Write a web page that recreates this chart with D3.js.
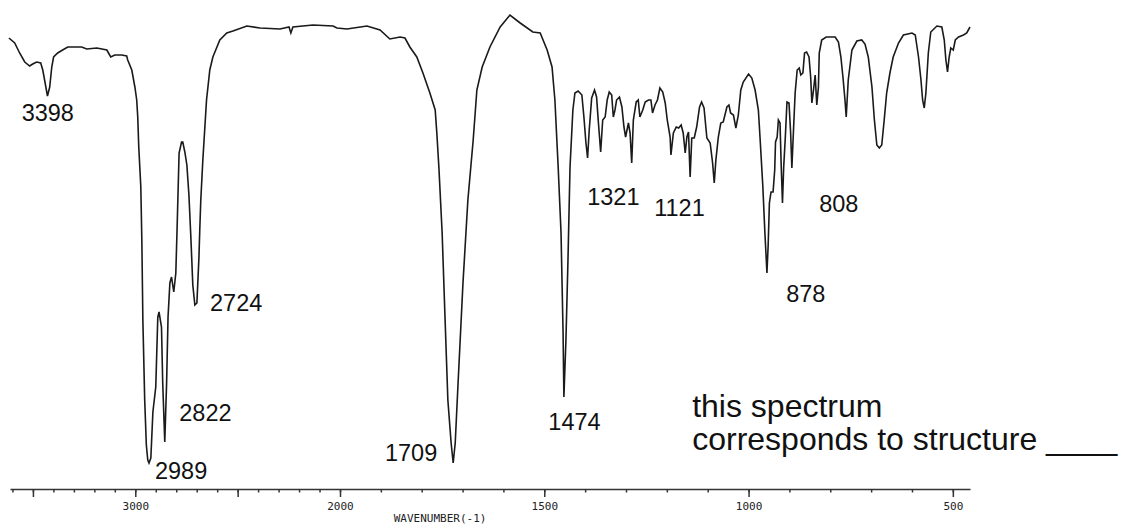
<!DOCTYPE html>
<html>
<head>
<meta charset="utf-8">
<script src="https://cdn.jsdelivr.net/npm/d3@7"></script>
<style>
    body { margin: 0; background: #fff; }
    svg { display: block; }
    .Spectrum__label { font-family: "Liberation Sans", Arial, sans-serif; font-size: 23.5px; fill: #111; }
    .Spectrum__note { font-family: "Liberation Sans", Arial, sans-serif; font-size: 32px; fill: #111; }
    .Spectrum__axis text { font-family: "DejaVu Sans Mono", monospace; font-size: 11px; fill: #222; }
    .Spectrum__axis path, .Spectrum__axis line { stroke: #333; stroke-width: 1.5; }
</style>
</head>
<body>
<div class="Spectrum"></div>
<script>
// wavenumber (cm-1), transmittance (%)
const ohRegion = [
    [3617, 86.4], [3589, 85.4], [3565, 83.4], [3540, 81.6], [3516, 80.8], [3501, 81.2], [3482, 81.6],
    [3462, 81.4], [3452, 80], [3443, 78], [3429, 74.8], [3418, 76.6], [3408, 80.6], [3399, 82.6],
    [3379, 83.4], [3355, 84], [3330, 84.6], [3262, 84.6], [3237, 84.2], [3188, 84.4], [3139, 84],
    [3120, 82.6], [3100, 83], [3066, 83], [3042, 82.8], [3037, 82], [3017, 80], [3002, 76.6]
];
const chRegion = [
    [2993, 74], [2988, 70.6], [2983, 64.6], [2973, 56.6], [2968, 46], [2963, 30], [2954, 14],
    [2946, 5], [2939, 2], [2933, 1.4], [2924, 2.4], [2914, 11.6], [2900, 16.6], [2890, 30.6],
    [2884, 31.6], [2872, 28.6], [2866, 17.4], [2856, 5.6], [2847, 17.4], [2840, 30.6], [2831, 37.4],
    [2823, 38.6], [2812, 35.6], [2802, 39.4], [2796, 48], [2786, 63.4], [2774, 65.6], [2768, 65.6],
    [2758, 63.6], [2748, 61], [2738, 55], [2729, 47], [2719, 37], [2709, 33], [2699, 33.4],
    [2689, 42.6], [2685, 48], [2680, 54], [2670, 62], [2652, 74], [2636, 80], [2621, 82.6],
    [2587, 86], [2553, 87.4], [2523, 87.8]
];
const carbonylRegion = [
    [2455, 88.8], [2391, 88.4], [2293, 88.2], [2249, 88.6], [2240, 87.4], [2230, 88.6], [2132, 89],
    [2034, 88.8], [2015, 88.4], [1983, 88.2], [1934, 88.8], [1902, 88], [1878, 86.2], [1853, 86.6],
    [1841, 86.4], [1829, 84.6], [1812, 82.6], [1797, 79.4], [1780, 75.4], [1767, 72], [1763, 67.4],
    [1758, 60.6], [1750, 47.4], [1743, 30.6], [1736, 14], [1728, 5.4], [1723, 1.4], [1718, 5.4],
    [1711, 17.4], [1699, 37.4], [1687, 54], [1674, 66], [1665, 76], [1652, 80.6], [1633, 84.6],
    [1608, 88.6], [1584, 91], [1559, 89.4], [1528, 87.6], [1510, 87.4], [1493, 84], [1481, 80.6],
    [1474, 74], [1466, 60.6], [1459, 47.4], [1454, 27.4], [1452, 14.6], [1447, 26], [1442, 42],
    [1437, 60.6], [1430, 72], [1425, 75.4]
];
const fingerprintRegion = [
    [1417, 75.8], [1408, 75], [1403, 70.6], [1398, 65.4], [1394, 62.4], [1390, 68], [1384, 74.4],
    [1377, 76], [1372, 74.6], [1368, 70], [1362, 63.6], [1357, 70], [1351, 70.6], [1346, 74],
    [1341, 75.6], [1335, 75], [1331, 70.6], [1327, 72], [1323, 74], [1316, 74.6], [1310, 72.6],
    [1305, 68.6], [1301, 66.6], [1294, 69.4], [1290, 67.4], [1286, 61.4], [1282, 70], [1275, 73.6],
    [1270, 74], [1266, 70.6], [1259, 72], [1253, 73.6], [1245, 74], [1239, 74], [1235, 71.4],
    [1229, 73], [1223, 74], [1217, 76.4], [1210, 75.6], [1204, 73.4], [1199, 70], [1192, 66.6],
    [1190, 63], [1184, 67.4], [1177, 68.6], [1171, 68.4], [1165, 69], [1160, 67.4], [1155, 63.4],
    [1151, 66.6], [1147, 67.6], [1143, 58.6], [1139, 66.4], [1133, 66.4], [1127, 68.6], [1120, 72.6],
    [1115, 73.6], [1109, 72.4], [1102, 66.4], [1094, 65.4], [1088, 61.4], [1084, 57.4], [1080, 62],
    [1074, 66.6], [1068, 69.4], [1062, 69.6], [1053, 72.6], [1048, 73], [1044, 71.4], [1037, 71],
    [1031, 68.4], [1025, 71], [1019, 76], [1013, 77.6], [1000, 79.2], [992, 78.4], [984, 76],
    [976, 72], [972, 66.6], [965, 56.6], [960, 47.4], [955, 39.4], [952, 45], [949, 53.4],
    [945, 55.6], [940, 55.6], [936, 60], [934, 65.6], [930, 66.6], [927, 70], [923, 69.4],
    [920, 60.6], [917, 53.4], [914, 60.6], [910, 66.6], [906, 73.6], [901, 73.4], [897, 67.4],
    [894, 60.4], [890, 68], [886, 75.4]
];
const lowRegion = [
    [881, 80], [876, 80.4], [872, 79], [867, 79.4], [863, 83.4], [858, 83.6], [852, 82.6],
    [848, 78.6], [845, 73.4], [841, 76], [837, 79], [833, 73], [829, 76.6], [827, 83.4], [821, 86],
    [810, 86.6], [788, 86.6], [780, 85.6], [774, 82.6], [769, 78.6], [764, 74], [761, 70.6],
    [756, 78], [747, 84], [735, 85.8], [723, 86], [715, 85.2], [707, 82.6], [698, 76.6], [692, 70],
    [686, 65], [680, 64.4], [674, 65], [668, 70], [662, 75.4], [654, 79.4], [646, 82.6], [633, 85.4],
    [621, 87], [600, 87.4], [592, 87], [584, 82.6], [578, 78], [574, 74], [570, 72.4], [566, 75.4],
    [560, 83.4], [554, 87.6], [539, 88.8], [527, 88.6], [521, 86], [517, 82], [513, 79.6],
    [509, 82.6], [505, 84.4], [499, 84], [494, 86], [486, 86.6], [474, 87], [466, 87.4], [458, 88.6]
];

// hand written peak labels: text, wavenumber and transmittance where the label sits
const peakLabels = ["3398", "2989", "2822", "2724", "1709", "1474", "1321", "1121", "878", "808"];
const labelWavenumbers = [3555, 2904, 2785, 2635, 1890, 1490, 1395, 1231, 908, 827];
const labelTransmittance = [69.8, -1.8, 9.8, 31.9, 1.8, 8, 53, 50.8, 33.7, 51.7];

const noteLines = ["this spectrum", "corresponds to structure ____"];

const minorTicks = d3.range(3600, 400, -100);
const majorTicks = [3500, 3000, 2500, 2000, 1500, 1000, 500];
const labelledTicks = [3000, 2000, 1500, 1000, 500];

const width = 1128, height = 527;

const svg = d3.select(".Spectrum").append("svg")
    .attr("width", width).attr("height", height);

// instrument switches scale at 2000 cm-1 (x2 expansion below)
const x = d3.scaleLinear()
    .domain([3612, 2000, 458])
    .range([10, 340, 970]);

const y = d3.scaleLinear()
    .domain([0, 100])
    .range([470, -30]);

const spectrum = ohRegion.concat(chRegion, carbonylRegion, fingerprintRegion, lowRegion);

svg.append("path")
    .datum(spectrum)
    .attr("fill", "none")
    .attr("stroke", "#1a1a1a")
    .attr("stroke-width", 1.6)
    .attr("d", d3.line().x(d => x(d[0])).y(d => y(d[1])));

// axis: minor ticks + domain line, then long ticks with labels
svg.append("g")
    .attr("class", "Spectrum__axis")
    .attr("transform", "translate(0,489)")
    .call(d3.axisBottom(x).tickValues(minorTicks).tickSize(3.5).tickSizeOuter(0).tickFormat(""));

const major = svg.append("g")
    .attr("class", "Spectrum__axis")
    .attr("transform", "translate(0,489)")
    .call(d3.axisBottom(x).tickValues(majorTicks).tickSize(8).tickPadding(5)
        .tickFormat(d => labelledTicks.includes(d) ? d : ""));
major.select(".domain").remove();

svg.append("text")
    .attr("x", x(1755))
    .attr("y", 522)
    .attr("text-anchor", "middle")
    .style("font-family", "'DejaVu Sans Mono', monospace")
    .style("font-size", "11px")
    .style("fill", "#222")
    .text("WAVENUMBER(-1)");

svg.append("g")
    .selectAll("text")
    .data(peakLabels)
    .enter().append("text")
    .attr("class", "Spectrum__label")
    .attr("x", (d, i) => x(labelWavenumbers[i]))
    .attr("y", (d, i) => y(labelTransmittance[i]))
    .text(d => d);

const note = svg.append("text")
    .attr("class", "Spectrum__note")
    .attr("x", x(1138))
    .attr("y", y(10.6));
note.selectAll("tspan")
    .data(noteLines)
    .enter().append("tspan")
    .attr("x", x(1138))
    .attr("dy", (d, i) => i === 0 ? 0 : 32.5)
    .text(d => d);
</script>
</body>
</html>
